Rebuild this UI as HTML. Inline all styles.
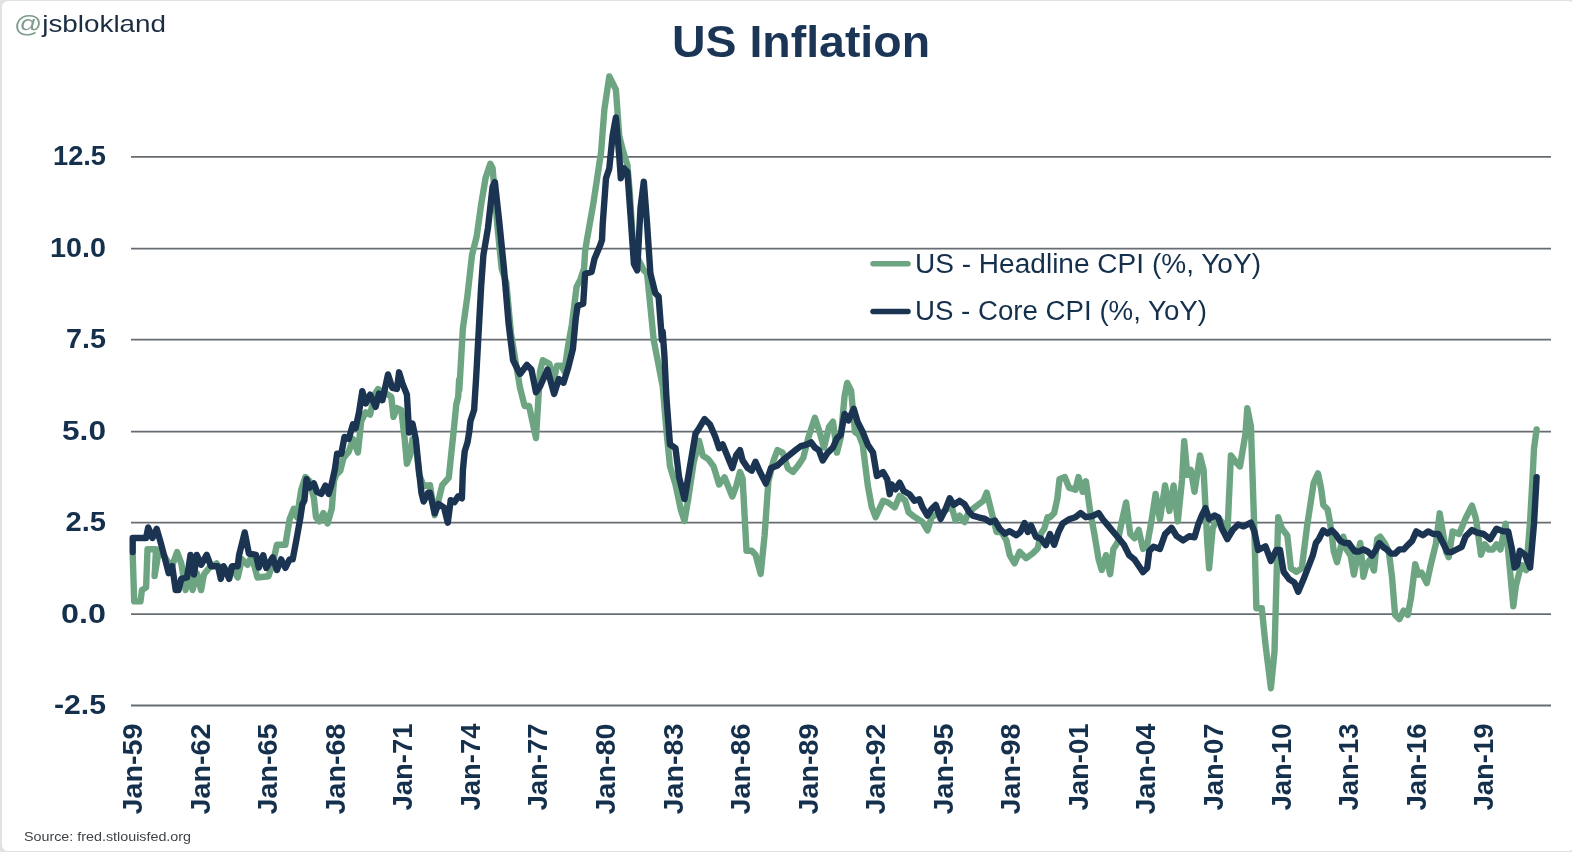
<!DOCTYPE html>
<html><head><meta charset="utf-8"><style>
html,body{margin:0;padding:0;background:#fff;}
svg{display:block;filter:blur(0.45px);}
.ax{font-family:"Liberation Sans",sans-serif;font-weight:bold;font-size:28px;fill:#15304c;}
.lg{font-family:"Liberation Sans",sans-serif;font-size:27px;fill:#15304c;}
.tt{font-family:"Liberation Sans",sans-serif;font-weight:bold;font-size:45px;fill:#1a3555;}
.hd{font-family:"Liberation Sans",sans-serif;font-size:24px;fill:#1b2d40;}
.src{font-family:"Liberation Sans",sans-serif;font-size:13px;fill:#3e4349;}
</style></head><body>
<svg width="1572" height="852" viewBox="0 0 1572 852">
<rect x="0" y="0" width="1572" height="852" fill="#e2e2e2"/>
<rect x="2" y="1" width="1572" height="850" rx="6" fill="#ffffff"/>
<line x1="131" y1="156.8" x2="1551" y2="156.8" stroke="#666c71" stroke-width="1.8"/>
<line x1="131" y1="248.6" x2="1551" y2="248.6" stroke="#666c71" stroke-width="1.8"/>
<line x1="131" y1="339.7" x2="1551" y2="339.7" stroke="#666c71" stroke-width="1.8"/>
<line x1="131" y1="431.6" x2="1551" y2="431.6" stroke="#666c71" stroke-width="1.8"/>
<line x1="131" y1="522.6" x2="1551" y2="522.6" stroke="#666c71" stroke-width="1.8"/>
<line x1="131" y1="614.2" x2="1551" y2="614.2" stroke="#666c71" stroke-width="1.8"/>
<line x1="131" y1="705.5" x2="1551" y2="705.5" stroke="#666c71" stroke-width="1.8"/>
<text x="53.0" y="165.4" class="ax" textLength="53" lengthAdjust="spacingAndGlyphs">12.5</text>
<text x="50.0" y="257.2" class="ax" textLength="56" lengthAdjust="spacingAndGlyphs">10.0</text>
<text x="66.0" y="348.3" class="ax" textLength="40" lengthAdjust="spacingAndGlyphs">7.5</text>
<text x="62.0" y="440.2" class="ax" textLength="44" lengthAdjust="spacingAndGlyphs">5.0</text>
<text x="65.5" y="531.2" class="ax" textLength="40.5" lengthAdjust="spacingAndGlyphs">2.5</text>
<text x="61.0" y="622.8" class="ax" textLength="45" lengthAdjust="spacingAndGlyphs">0.0</text>
<text x="54.0" y="714.1" class="ax" textLength="52" lengthAdjust="spacingAndGlyphs">-2.5</text>
<text transform="translate(142.0,814.5) rotate(-90)" class="ax" textLength="91" lengthAdjust="spacingAndGlyphs">Jan-59</text>
<text transform="translate(209.6,814.5) rotate(-90)" class="ax" textLength="91" lengthAdjust="spacingAndGlyphs">Jan-62</text>
<text transform="translate(277.1,814.5) rotate(-90)" class="ax" textLength="91" lengthAdjust="spacingAndGlyphs">Jan-65</text>
<text transform="translate(344.7,814.5) rotate(-90)" class="ax" textLength="91" lengthAdjust="spacingAndGlyphs">Jan-68</text>
<text transform="translate(412.2,810.5) rotate(-90)" class="ax" textLength="87" lengthAdjust="spacingAndGlyphs">Jan-71</text>
<text transform="translate(479.8,810.5) rotate(-90)" class="ax" textLength="87" lengthAdjust="spacingAndGlyphs">Jan-74</text>
<text transform="translate(547.4,810.5) rotate(-90)" class="ax" textLength="87" lengthAdjust="spacingAndGlyphs">Jan-77</text>
<text transform="translate(614.9,814.5) rotate(-90)" class="ax" textLength="91" lengthAdjust="spacingAndGlyphs">Jan-80</text>
<text transform="translate(682.5,814.5) rotate(-90)" class="ax" textLength="91" lengthAdjust="spacingAndGlyphs">Jan-83</text>
<text transform="translate(750.0,814.5) rotate(-90)" class="ax" textLength="91" lengthAdjust="spacingAndGlyphs">Jan-86</text>
<text transform="translate(817.6,814.5) rotate(-90)" class="ax" textLength="91" lengthAdjust="spacingAndGlyphs">Jan-89</text>
<text transform="translate(885.2,814.5) rotate(-90)" class="ax" textLength="91" lengthAdjust="spacingAndGlyphs">Jan-92</text>
<text transform="translate(952.7,814.5) rotate(-90)" class="ax" textLength="91" lengthAdjust="spacingAndGlyphs">Jan-95</text>
<text transform="translate(1020.3,814.5) rotate(-90)" class="ax" textLength="91" lengthAdjust="spacingAndGlyphs">Jan-98</text>
<text transform="translate(1087.8,810.5) rotate(-90)" class="ax" textLength="87" lengthAdjust="spacingAndGlyphs">Jan-01</text>
<text transform="translate(1155.4,814.5) rotate(-90)" class="ax" textLength="91" lengthAdjust="spacingAndGlyphs">Jan-04</text>
<text transform="translate(1223.0,810.5) rotate(-90)" class="ax" textLength="87" lengthAdjust="spacingAndGlyphs">Jan-07</text>
<text transform="translate(1290.5,810.5) rotate(-90)" class="ax" textLength="87" lengthAdjust="spacingAndGlyphs">Jan-10</text>
<text transform="translate(1358.1,810.5) rotate(-90)" class="ax" textLength="87" lengthAdjust="spacingAndGlyphs">Jan-13</text>
<text transform="translate(1425.6,810.5) rotate(-90)" class="ax" textLength="87" lengthAdjust="spacingAndGlyphs">Jan-16</text>
<text transform="translate(1493.2,810.5) rotate(-90)" class="ax" textLength="87" lengthAdjust="spacingAndGlyphs">Jan-19</text>
<path d="M132.7,554.9 L134.2,601.4 L140.5,601.4 L141.9,590.1 L146.1,587.3 L147.5,549.3 L156.0,549.3 L154.6,576.1 L158.8,550.7 L164.4,556.3 L171.5,567.6 L177.1,552.1 L181.3,563.4 L185.6,590.1 L188.4,573.2 L192.6,590.1 L196.8,573.2 L201.1,590.1 L203.9,574.6 L209.5,567.6 L216.5,563.4 L223.6,573.2 L232.0,567.6 L237.7,577.5 L241.9,559.2 L247.5,564.8 L251.8,556.3 L257.4,577.5 L268.5,576.3 L272.7,563.7 L276.9,544.7 L285.4,544.7 L289.6,519.3 L293.8,508.7 L297.0,517.2 L301.2,489.7 L305.4,477.0 L309.7,481.3 L313.9,498.2 L316.0,517.2 L319.2,521.4 L323.4,513.0 L327.6,523.5 L331.8,508.7 L333.9,481.3 L336.1,474.9 L340.3,470.7 L343.5,458.0 L348.7,451.7 L353.0,439.0 L357.9,452.5 L361.2,421.3 L365.7,412.4 L370.1,414.6 L374.6,394.6 L377.9,389.0 L381.3,391.2 L388.0,394.6 L391.3,396.8 L393.5,416.9 L396.9,408.0 L401.3,410.2 L404.7,439.2 L406.9,463.7 L410.2,454.8 L412.5,439.2 L415.8,443.6 L419.2,474.8 L423.6,486.0 L430.0,485.2 L434.7,515.2 L438.5,500.2 L442.2,485.2 L448.8,477.7 L450.7,458.9 L453.5,432.6 L456.3,404.4 L458.2,396.9 L459.1,380.0 L459.3,390.1 L462.9,328.3 L467.4,296.3 L472.0,255.1 L476.6,236.9 L481.1,204.9 L485.7,177.4 L490.3,163.7 L492.6,168.3 L497.1,223.1 L501.7,268.9 L506.3,282.6 L510.9,332.9 L515.4,360.3 L520.0,387.7 L524.6,406.0 L529.1,406.0 L536.0,438.0 L540.0,371.5 L542.8,360.2 L549.4,363.9 L553.1,382.7 L556.9,365.8 L561.6,365.8 L564.4,371.5 L568.2,345.2 L571.9,324.5 L574.7,302.0 L576.6,286.9 L580.4,279.4 L584.1,268.2 L585.1,251.3 L586.9,240.0 L593.1,204.9 L601.1,152.0 L604.4,109.3 L609.3,76.4 L612.6,83.0 L615.9,89.6 L619.2,135.6 L622.4,148.7 L627.4,165.2 L629.7,191.4 L633.0,244.0 L637.2,257.2 L643.8,270.3 L647.1,273.6 L653.7,340.0 L662.7,386.4 L666.4,430.0 L670.0,466.4 L675.5,484.5 L680.9,510.0 L684.5,520.9 L688.2,499.1 L693.6,462.7 L699.1,440.9 L702.7,455.5 L708.2,459.1 L713.6,466.4 L719.1,484.5 L724.5,477.3 L732.3,496.5 L736.2,486.2 L740.0,472.0 L742.6,478.5 L746.5,550.8 L751.7,550.8 L755.5,554.7 L760.7,574.0 L764.6,535.3 L768.4,481.1 L773.6,460.4 L777.5,450.1 L782.6,452.6 L787.8,468.1 L793.0,472.0 L798.1,465.6 L803.3,457.8 L808.5,437.1 L814.9,417.8 L818.8,429.4 L824.0,447.5 L829.1,426.8 L833.0,421.7 L836.9,452.6 L840.8,437.1 L844.6,395.8 L847.2,382.9 L851.1,390.7 L855.0,432.0 L858.8,434.6 L862.7,444.9 L867.9,486.2 L871.7,506.9 L875.6,517.2 L883.1,500.8 L888.1,502.5 L894.7,507.4 L899.6,495.9 L905.3,500.8 L908.6,512.3 L912.7,515.6 L917.7,518.9 L922.6,522.2 L927.5,530.4 L931.6,517.3 L937.4,514.0 L942.3,512.3 L947.3,509.0 L950.5,502.5 L955.5,520.5 L959.6,515.6 L964.5,522.2 L968.6,512.3 L976.8,505.7 L983.4,500.8 L986.7,492.6 L990.0,505.7 L994.1,522.2 L996.6,532.0 L1001.5,532.0 L1006.4,540.3 L1009.7,555.1 L1014.6,563.3 L1019.6,551.8 L1026.1,558.3 L1032.7,553.4 L1037.7,548.5 L1040.9,533.7 L1044.2,528.8 L1047.5,517.3 L1050.0,517.2 L1054.2,513.0 L1057.4,498.2 L1059.5,479.2 L1064.8,477.0 L1069.0,487.6 L1075.4,489.7 L1078.5,477.0 L1082.7,491.8 L1085.9,481.3 L1090.1,510.9 L1094.4,534.1 L1098.6,559.4 L1101.8,570.0 L1106.0,555.2 L1110.2,574.2 L1113.4,548.9 L1117.6,542.5 L1121.8,521.4 L1126.1,502.4 L1130.3,534.1 L1134.5,538.3 L1138.7,529.9 L1143.0,548.9 L1147.2,544.7 L1151.4,521.4 L1155.6,493.9 L1159.9,519.3 L1165.1,485.5 L1169.4,510.9 L1173.6,485.5 L1177.8,521.4 L1182.1,479.2 L1184.2,441.1 L1187.3,474.9 L1190.9,470.0 L1194.5,491.8 L1200.0,455.5 L1203.6,470.0 L1207.3,542.7 L1209.1,568.2 L1212.7,528.2 L1218.2,517.3 L1223.6,524.5 L1227.3,535.5 L1230.9,455.5 L1236.4,462.7 L1240.0,466.4 L1245.5,433.6 L1247.3,408.2 L1250.9,426.4 L1254.5,535.5 L1256.4,608.2 L1261.8,608.2 L1265.5,644.5 L1270.9,688.2 L1274.5,651.8 L1278.2,517.3 L1281.8,528.2 L1287.3,535.5 L1290.9,568.2 L1296.4,571.8 L1301.8,568.2 L1307.3,524.5 L1313.7,482.8 L1318.0,473.3 L1321.1,488.1 L1323.3,505.0 L1327.5,509.2 L1329.6,519.8 L1331.7,534.6 L1333.8,551.5 L1337.0,562.1 L1340.2,549.4 L1343.3,536.7 L1346.5,549.4 L1350.7,555.7 L1353.9,574.7 L1357.1,557.8 L1360.3,543.0 L1363.4,576.8 L1366.6,564.2 L1369.8,559.9 L1374.0,570.5 L1377.2,538.8 L1380.3,536.7 L1384.6,543.0 L1388.8,551.5 L1392.0,576.8 L1395.1,614.9 L1399.4,619.1 L1403.6,610.7 L1407.8,614.9 L1411.0,598.0 L1415.2,564.2 L1418.4,574.7 L1421.6,572.7 L1426.8,583.1 L1430.7,565.0 L1435.8,544.3 L1439.7,513.3 L1442.3,528.8 L1446.2,552.1 L1448.7,557.2 L1452.6,531.4 L1459.1,534.0 L1465.5,518.5 L1472.0,505.6 L1475.9,518.5 L1481.0,554.7 L1484.9,544.3 L1488.8,549.5 L1492.7,549.5 L1496.5,544.3 L1500.4,549.5 L1505.6,523.7 L1509.5,565.0 L1513.3,606.3 L1515.9,585.7 L1521.1,565.0 L1526.2,570.2 L1530.1,521.1 L1532.7,474.6 L1534.0,448.7 L1536.6,429.4" fill="none" stroke="#6da583" stroke-width="6.4" stroke-linejoin="round" stroke-linecap="round"/>
<path d="M132.7,552.1 L132.7,538.0 L139.1,538.0 L146.1,538.0 L148.2,527.5 L152.5,538.0 L156.7,528.9 L160.2,540.8 L165.8,562.0 L168.7,573.2 L172.2,566.2 L175.7,590.1 L178.5,590.1 L181.3,578.9 L187.0,577.5 L190.5,554.9 L194.0,574.6 L196.8,554.9 L201.1,564.8 L206.7,554.9 L210.9,566.2 L218.0,566.2 L220.8,578.9 L223.6,566.2 L229.2,578.9 L232.0,566.2 L237.7,566.2 L239.1,554.9 L244.7,532.4 L248.9,553.5 L256.0,554.9 L258.8,567.6 L263.2,555.2 L266.3,567.9 L272.7,557.3 L276.9,570.0 L281.1,559.4 L285.4,567.9 L289.6,559.4 L292.7,559.4 L295.9,542.5 L300.1,519.3 L302.3,504.5 L304.4,500.3 L306.5,479.2 L309.7,487.6 L313.9,483.4 L317.0,491.8 L321.3,493.9 L325.5,485.5 L328.7,493.9 L331.8,483.4 L335.0,468.6 L337.1,453.8 L341.3,453.8 L344.5,436.9 L348.7,439.0 L353.0,424.2 L355.6,428.0 L359.0,412.4 L362.3,391.2 L365.7,403.5 L370.1,394.6 L375.7,406.8 L379.0,393.5 L382.4,400.2 L388.0,374.5 L392.4,387.9 L396.9,389.0 L399.1,372.3 L402.4,383.4 L406.9,394.6 L409.1,432.5 L412.5,423.6 L415.8,439.2 L419.2,472.6 L421.4,492.7 L423.6,501.6 L428.1,492.7 L430.0,492.7 L434.7,513.3 L438.5,503.9 L444.1,507.7 L447.8,522.7 L450.7,500.2 L454.4,502.1 L458.2,496.4 L461.9,498.3 L462.9,470.1 L464.7,451.4 L467.6,442.0 L469.4,430.7 L470.4,421.3 L474.1,410.0 L476.0,380.0 L476.6,369.4 L481.1,287.1 L483.4,255.1 L488.0,227.7 L492.6,186.6 L494.9,182.0 L499.4,223.1 L504.0,268.9 L508.6,323.7 L513.1,360.3 L520.0,374.0 L526.9,364.9 L531.4,369.4 L536.0,392.3 L540.0,386.5 L547.5,369.6 L554.1,394.0 L558.8,379.0 L563.5,382.7 L568.2,367.7 L572.9,348.9 L575.7,318.9 L577.6,305.7 L583.2,303.8 L585.1,273.8 L591.6,271.9 L594.5,258.8 L600.1,245.6 L602.0,240.0 L602.7,224.3 L606.0,178.3 L609.3,168.4 L612.6,135.6 L615.9,117.5 L619.2,155.3 L620.8,178.3 L624.1,168.4 L627.4,171.7 L630.7,217.7 L633.9,263.7 L637.2,270.3 L640.5,207.9 L643.8,181.6 L647.1,224.3 L650.4,273.6 L655.3,293.3 L658.6,296.6 L661.9,340.0 L662.7,331.8 L664.5,357.3 L666.4,397.3 L670.0,444.5 L675.5,448.2 L679.1,477.3 L684.5,499.1 L690.0,466.4 L695.5,433.6 L699.1,428.2 L704.5,419.1 L710.0,424.5 L715.5,437.3 L719.1,448.2 L722.7,444.5 L732.3,468.1 L736.2,455.2 L740.0,450.1 L742.6,460.4 L747.8,468.1 L751.7,470.7 L755.5,461.7 L759.4,470.7 L765.9,483.6 L771.0,468.1 L777.5,465.6 L782.6,460.4 L789.1,455.2 L795.6,450.1 L800.7,446.2 L805.9,444.9 L811.1,442.3 L814.9,447.5 L818.8,450.1 L822.7,460.4 L827.8,452.6 L833.0,447.5 L836.9,438.4 L840.8,434.6 L844.6,413.9 L848.5,420.4 L853.7,408.7 L857.5,421.7 L862.7,432.0 L867.9,444.9 L873.0,452.6 L876.9,475.9 L883.1,472.1 L887.3,479.4 L889.7,494.2 L891.4,484.4 L895.5,489.3 L899.6,482.7 L903.7,491.0 L909.4,494.2 L914.4,500.8 L919.3,499.2 L922.6,507.4 L927.5,515.6 L931.6,509.0 L935.7,504.9 L940.7,518.9 L945.6,509.0 L949.7,498.3 L953.8,504.9 L959.6,500.8 L964.5,504.1 L969.4,512.3 L972.7,515.6 L978.5,517.3 L985.1,518.9 L990.0,522.2 L994.9,520.5 L999.8,528.8 L1004.8,533.7 L1009.7,531.2 L1016.3,535.3 L1020.4,532.0 L1024.5,523.0 L1027.8,532.0 L1031.1,525.5 L1036.0,537.0 L1040.9,538.6 L1045.9,545.2 L1050.0,534.1 L1054.2,544.7 L1058.5,532.0 L1062.7,523.5 L1069.0,519.3 L1075.4,517.2 L1080.6,513.0 L1085.9,517.2 L1092.3,516.1 L1098.6,513.0 L1102.8,519.3 L1108.1,525.6 L1113.4,532.0 L1118.7,538.3 L1123.9,544.7 L1129.2,555.2 L1134.5,559.4 L1138.7,565.8 L1143.0,572.1 L1147.2,567.9 L1149.3,551.0 L1153.5,546.8 L1159.9,548.9 L1165.1,534.1 L1171.5,527.8 L1176.8,536.2 L1183.1,540.4 L1189.4,536.2 L1194.5,537.3 L1198.2,524.5 L1201.8,515.5 L1205.5,508.2 L1209.1,519.1 L1214.5,515.5 L1218.2,517.3 L1221.8,528.2 L1227.3,539.1 L1232.7,530.0 L1238.2,524.5 L1243.6,526.4 L1250.9,522.7 L1254.5,531.8 L1258.2,550.0 L1265.5,546.4 L1270.9,560.9 L1276.4,550.0 L1280.0,550.0 L1283.6,571.8 L1289.1,579.1 L1294.5,582.7 L1298.2,591.8 L1303.6,579.1 L1312.7,555.7 L1315.9,543.0 L1319.0,538.8 L1323.3,530.3 L1327.5,533.5 L1331.7,530.3 L1335.9,534.6 L1340.2,540.9 L1344.4,543.0 L1348.6,543.0 L1351.8,547.3 L1355.0,551.5 L1359.2,551.5 L1363.4,549.4 L1367.7,551.5 L1371.9,555.7 L1376.1,549.4 L1379.3,543.0 L1383.5,547.3 L1386.7,549.4 L1390.9,553.6 L1395.1,553.6 L1399.4,549.4 L1403.6,549.4 L1407.8,545.1 L1412.1,540.9 L1416.3,531.4 L1422.9,535.3 L1428.1,531.4 L1433.2,534.0 L1438.4,534.0 L1443.6,544.3 L1447.5,552.1 L1451.3,552.1 L1456.5,549.5 L1461.7,546.9 L1465.5,536.6 L1472.0,530.1 L1477.2,532.7 L1483.6,534.0 L1490.1,539.2 L1496.5,528.8 L1503.0,531.4 L1508.2,531.4 L1512.0,549.5 L1514.6,567.6 L1517.2,565.0 L1519.8,550.8 L1525.0,554.7 L1530.1,567.6 L1534.0,523.7 L1536.6,477.2" fill="none" stroke="#1b3452" stroke-width="6.4" stroke-linejoin="round" stroke-linecap="round"/>
<line x1="873" y1="263.8" x2="908" y2="263.8" stroke="#6da583" stroke-width="5.5" stroke-linecap="round"/>
<line x1="873" y1="311.6" x2="908" y2="311.6" stroke="#1b3452" stroke-width="5.5" stroke-linecap="round"/>
<text x="915" y="273.4" class="lg" textLength="346" lengthAdjust="spacingAndGlyphs">US - Headline CPI (%, YoY)</text>
<text x="915" y="320" class="lg" textLength="292" lengthAdjust="spacingAndGlyphs">US - Core CPI (%, YoY)</text>
<text x="672" y="56.5" class="tt" textLength="258" lengthAdjust="spacingAndGlyphs">US Inflation</text>
<text x="14" y="32.3" class="hd" textLength="152" lengthAdjust="spacingAndGlyphs"><tspan fill="#7f9c8e">@</tspan>jsblokland</text>
<text x="24" y="841" class="src" textLength="167" lengthAdjust="spacingAndGlyphs">Source: fred.stlouisfed.org</text>
</svg>
</body></html>
